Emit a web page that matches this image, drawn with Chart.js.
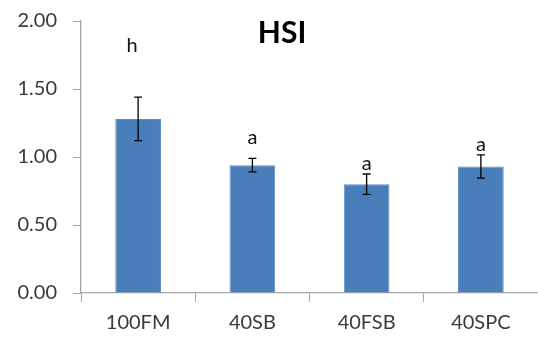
<!DOCTYPE html>
<html>
<head>
<meta charset="utf-8">
<script src="https://cdn.jsdelivr.net/npm/chart.js@4.4.1/dist/chart.umd.min.js"></script>
<style>
  html, body { margin: 0; padding: 0; background: #fff; }
  #wrap { width: 538px; height: 337px; }
</style>
</head>
<body>
<div id="wrap"><canvas id="hsiChart"></canvas></div>
<script>
// data
var categories = ["100FM", "40SB", "40FSB", "40SPC"];
var hsiMean = [1.28, 0.94, 0.80, 0.93];
var hsiErr = [0.16, 0.05, 0.075, 0.085];
var sigLetters = ["h", "a", "a", "a"];
var letterLevel = [1.82, 1.14, 0.955, 1.095];
var yTicks = [0, 0.5, 1, 1.5, 2];

var axisGrey = "#a6a6a6";
var textGrey = "#3a3a3a";

// error bars + significance letters + title text
var extras = {
  id: "extras",
  afterDatasetsDraw: function(chart) {
    var ctx = chart.ctx;
    var meta = chart.getDatasetMeta(0);
    var ys = chart.scales.y;
    ctx.save();
    ctx.strokeStyle = "#000";
    ctx.lineWidth = 1.3;
    meta.data.forEach(function(bar, i) {
      var x = bar.x;
      var top = ys.getPixelForValue(hsiMean[i] + hsiErr[i]);
      var bot = ys.getPixelForValue(hsiMean[i] - hsiErr[i]);
      ctx.beginPath();
      ctx.moveTo(x, top); ctx.lineTo(x, bot);
      ctx.moveTo(x - 4, top); ctx.lineTo(x + 4, top);
      ctx.moveTo(x - 4, bot); ctx.lineTo(x + 4, bot);
      ctx.stroke();
    });
    ctx.fillStyle = "#111";
    ctx.font = "20px Lato, 'Open Sans', sans-serif";
    ctx.textAlign = "center";
    ctx.textBaseline = "middle";
    meta.data.forEach(function(bar, i) {
      ctx.fillText(sigLetters[i], bar.x - (i === 0 ? 6 : 0), ys.getPixelForValue(letterLevel[i]));
    });
    // chart heading, sits a bit left of the plot centre like the original
    var area = chart.chartArea;
    ctx.font = "bold 30px Lato, 'Open Sans', sans-serif";
    ctx.fillStyle = "#000";
    ctx.fillText("HSI", area.left + (area.right - area.left) * 0.44, area.top + 12);
    ctx.restore();
  }
};

var ctx = document.getElementById("hsiChart").getContext("2d");
new Chart(ctx, {
  type: "bar",
  data: {
    labels: categories,
    datasets: [{
      label: "HSI",
      data: hsiMean,
      backgroundColor: "#4a7ebb",
      borderColor: "#5b8bc4",
      borderWidth: 1,
      barPercentage: 0.4,
      categoryPercentage: 1.0
    }]
  },
  options: {
    responsive: true,
    maintainAspectRatio: false,
    animation: false,
    layout: { padding: { top: 21, right: 0, bottom: 0, left: 0 } },
    plugins: {
      legend: { display: false },
      tooltip: { enabled: false },
      title: { display: false }
    },
    scales: {
      x: {
        grid: { display: true, drawOnChartArea: false, drawTicks: true, tickLength: 9, color: axisGrey, offset: true },
        border: { display: true, color: axisGrey, width: 1.3 },
        ticks: { color: textGrey, font: { family: "Lato, 'Open Sans', sans-serif", size: 20 }, padding: 9, maxRotation: 0 },
        afterFit: function(s) { s.height = 44; s.paddingLeft = 0; s.paddingRight = 0; }
      },
      y: {
        min: 0,
        max: 2,
        afterBuildTicks: function(s) { s.ticks = yTicks.map(function(v) { return { value: v }; }); },
        grid: { display: true, drawOnChartArea: false, drawTicks: true, tickLength: 8, color: axisGrey },
        border: { display: true, color: axisGrey, width: 1.3 },
        ticks: {
          color: textGrey,
          font: { family: "Lato, 'Open Sans', sans-serif", size: 20 },
          padding: 16,
          callback: function(v) { return Number(v).toFixed(2); }
        },
        afterFit: function(s) { s.width = 81; s.paddingTop = 0; s.paddingBottom = 0; }
      }
    }
  },
  plugins: [extras]
});
</script>
</body>
</html>
